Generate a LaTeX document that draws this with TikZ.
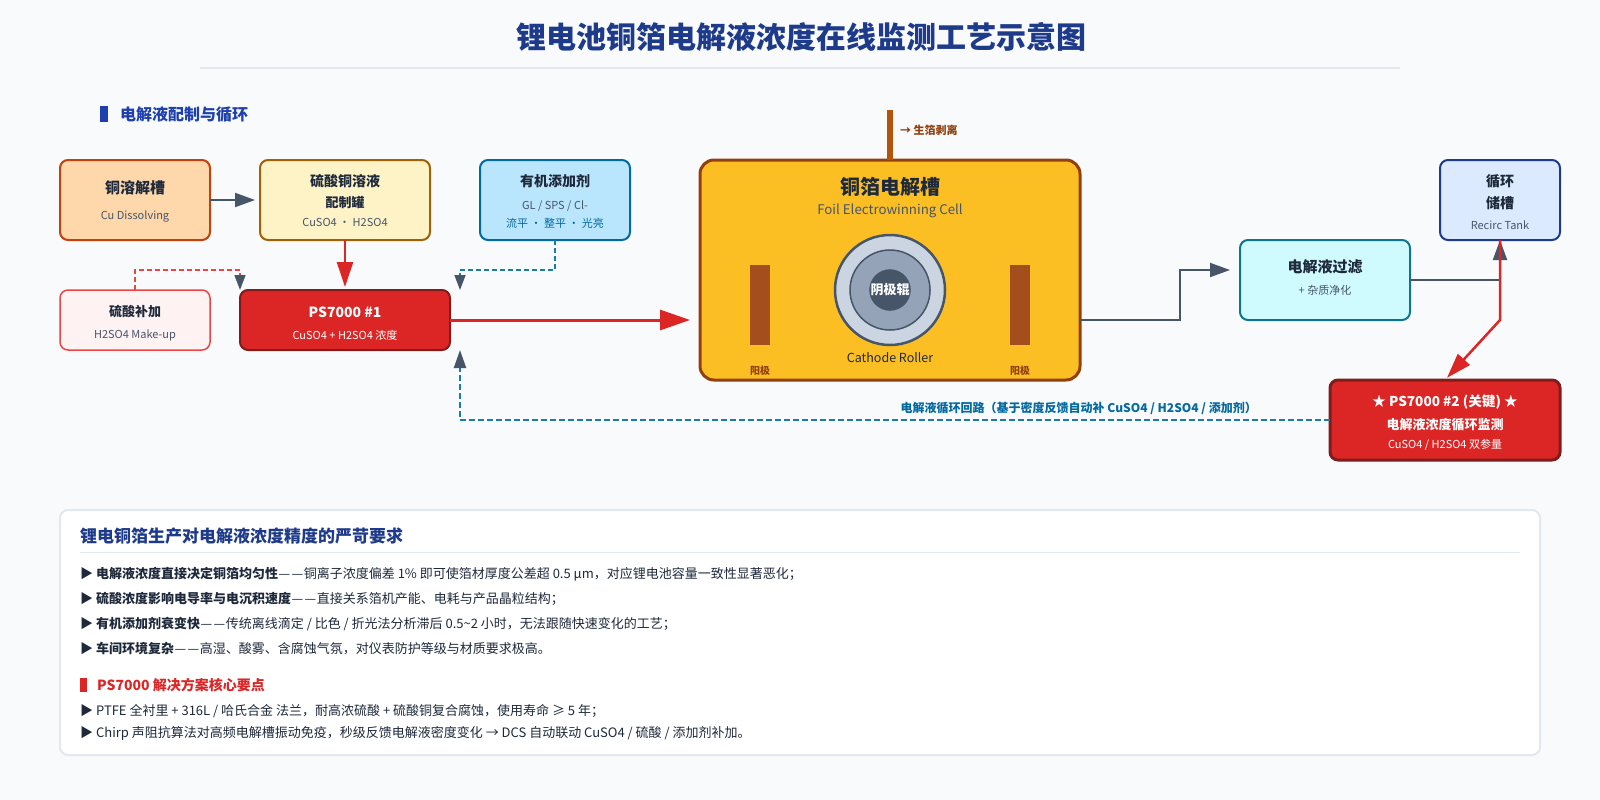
\documentclass[tikz,border=0pt]{standalone}
\usepackage{fontspec}
\usepackage{tikz}
\usetikzlibrary{arrows.meta}
\setmainfont{Noto Sans CJK SC}
\definecolor{pagebg}{HTML}{F8FAFC}
\definecolor{rulegray}{HTML}{E2E8F0}
\definecolor{navy}{HTML}{1E3A8A}
\definecolor{secblue}{HTML}{1E40AF}
\definecolor{ink}{HTML}{1E293B}
\definecolor{slate}{HTML}{475569}
\definecolor{redmain}{HTML}{DC2626}
\definecolor{redlight}{HTML}{EF4444}
\definecolor{reddark}{HTML}{7F1D1D}
\definecolor{sky}{HTML}{0369A1}
\definecolor{dashsky}{HTML}{1A7BAD}
\definecolor{brown}{HTML}{92400E}
\definecolor{anodec}{HTML}{A34E1C}
\definecolor{pipec}{HTML}{B45309}
\definecolor{cufill}{HTML}{FED7AA}
\definecolor{culine}{HTML}{C2410C}
\definecolor{mixfill}{HTML}{FEF3C7}
\definecolor{mixline}{HTML}{A16207}
\definecolor{orgfill}{HTML}{BAE6FD}
\definecolor{acidfill}{HTML}{FEF2F2}
\definecolor{cellfill}{HTML}{FBBF24}
\definecolor{filtfill}{HTML}{CFFAFE}
\definecolor{filtline}{HTML}{0E7490}
\definecolor{tankfill}{HTML}{DBEAFE}
\definecolor{rollout}{HTML}{CBD5E1}
\definecolor{rollmid}{HTML}{94A3B8}
\newcommand{\hd}[2][14]{{\fontsize{#1}{#1}\selectfont\bfseries\color{ink}#2}}
\newcommand{\sm}[2][slate]{{\fontsize{11}{11}\selectfont\color{#1}#2}}
\newcommand{\wh}[2][13]{{\fontsize{#1}{#1}\selectfont\bfseries\color{white}#2}}
\newcommand{\ws}[1]{{\fontsize{11}{11}\selectfont\color{white}#1}}
\newcommand{\dd}{\kern.5pt—\kern1.5pt—\kern.5pt}
\newcommand{\pad}[1]{\rule{0pt}{#1pt}}
\begin{document}
\begin{tikzpicture}[x=1pt,y=-1pt,
  unit/.style={draw,line width=2pt,rounded corners=8pt,inner sep=0pt,outer sep=0pt,
    align=center,minimum width=150pt,minimum height=80pt},
  gap/.style={font=\fontsize{11}{#1}\selectfont},
  flow/.style={draw=slate,line width=2pt,-{Triangle[length=20pt,width=14pt]}},
  hotflow/.style={draw=redmain,line width=2.5pt,-{Triangle[length=25pt,width=16pt]}},
  dose/.style={line width=1.5pt,dash pattern=on 5pt off 3pt,
    -{Triangle[length=15pt,width=11pt,fill=slate,color=slate]}},
  line/.style={anchor=west,font=\fontsize{13}{15}\selectfont,text=ink,inner sep=0pt},
  roll/.style={circle,draw=slate,inner sep=0pt,outer sep=0pt}]
\fill[pagebg] (0,0) rectangle (1600,800);

% title
\node[font=\fontsize{30}{34}\selectfont\bfseries,text=navy] (title) at (801,37) {锂电池铜箔电解液浓度在线监测工艺示意图};
\draw[rulegray,line width=2pt] (200,68) -- (1400,68);
\fill[secblue] (100,106) rectangle (108,122);
\node[anchor=west,inner sep=0pt,font=\fontsize{16}{18}\selectfont\bfseries,text=secblue] (sec) at (120,115) {电解液配制与循环};

% feed side
\node[unit,gap=26,draw=culine,fill=cufill] (cu) at (135,200) {\pad{15}\hd[15]{铜溶解槽}\\\sm{Cu Dissolving}};
\node[unit,gap=21,minimum width=170pt,draw=mixline,fill=mixfill] (mix) at (345,200) {\pad{14}\hd[14]{硫酸铜溶液}\\\hd[13]{配制罐}\\[-2pt]\sm{CuSO4 · H2SO4}};
\node[unit,gap=23,draw=sky,fill=orgfill] (org) at (555,200) {\pad{14}\hd{有机添加剂}\\\sm{GL / SPS / Cl-}\\[-5pt]\sm[sky]{流平 · 整平 · 光亮}};
\node[unit,gap=22,minimum height=60pt,draw=redlight,line width=1.5pt,fill=acidfill] (acid) at (135,320) {\pad{18.5}\hd[13]{硫酸补加}\\\sm{H2SO4 Make-up}};
\node[unit,gap=22,minimum width=210pt,minimum height=60pt,draw=reddark,fill=redmain] (ps1) at (345,320) {\pad{17}\wh[14]{PS7000 \#1}\\\ws{CuSO4 + H2SO4 浓度}};

% cell
\node[unit,minimum width=380pt,minimum height=220pt,rounded corners=14pt,line width=3pt,draw=brown,fill=cellfill] (cell) at (890,270) {};
\fill[pipec] (887,110) rectangle (893,160);
\node[anchor=west,inner sep=0pt,font=\fontsize{11}{13}\selectfont\bfseries,text=brown] (strip) at (900,130) {→ 生箔剥离};
\node[font=\fontsize{20}{22}\selectfont\bfseries,text=ink] (celltxt) at (890,187) {铜箔电解槽};
\node[font=\fontsize{13.3}{15}\selectfont,text=slate] (cellsub) at (890,211) {Foil Electrowinning Cell};
\node[roll,line width=2.5pt,fill=rollout,minimum size=110pt] (r1) at (890,290) {};
\node[roll,line width=1.5pt,fill=rollmid,minimum size=80pt] (r2) at (890,290) {};
\node[roll,fill=slate,minimum size=40pt,font=\fontsize{13}{15}\selectfont\bfseries,text=white] (r3) at (890,290) {阴极辊};
\node[font=\fontsize{12.5}{14}\selectfont,text=ink] (rtxt) at (890,358) {Cathode Roller};
\fill[anodec] (750,265) rectangle (770,345);
\fill[anodec] (1010,265) rectangle (1030,345);
\node[font=\fontsize{10}{12}\selectfont\bfseries,text=brown] (a1) at (760,371) {阳极};
\node[font=\fontsize{10}{12}\selectfont\bfseries,text=brown] (a2) at (1020,371) {阳极};

% return side
\node[unit,gap=22,minimum width=170pt,draw=filtline,fill=filtfill] (filt) at (1325,280) {\hd[15]{电解液过滤}\\\sm{+ 杂质净化}\rule[-6.5pt]{0pt}{6.5pt}};
\node[unit,gap=22,minimum width=120pt,draw=navy,fill=tankfill] (tank) at (1500,200) {\pad{16}\hd{循环}\\\hd{储槽}\\[-1pt]\sm{Recirc Tank}};
\node[unit,gap=23,minimum width=230pt,line width=3pt,draw=reddark,fill=redmain] (ps2) at (1445,420) {\pad{16}\wh[13.6]{★ PS7000 \#2 (关键) ★}\\\wh[13]{电解液浓度循环监测}\\[-4pt]\ws{CuSO4 / H2SO4 双参量}};

\coordinate (mid) at (1500,320);
\coordinate (acidup) at (135,270);
\coordinate (orgdn) at (555,270);
\coordinate (ps1l) at (240,290);
\coordinate (ps1r) at (460,290);
\coordinate (ps1b) at (460,350);

% connectors
\draw[flow,shorten >=5pt] (cu.east) -- (mix.west);
\draw[hotflow,shorten >=3pt] (mix.south) -- (ps1.north);
\draw[hotflow,line width=3pt,-{Triangle[length=30pt,width=20pt]},shorten >=10pt] (ps1.east) -- (cell.west |- ps1.east);
\draw[dose,draw=redlight] (acid.north -| acidup) -- (acidup) -- (acidup -| ps1l) -- (ps1l);
\draw[dose,draw=dashsky] (org.south) -- (orgdn) -- (orgdn -| ps1r) -- (ps1r);
\draw[flow,shorten >=10pt] (cell.east |- mid) -- (1180,320) -- (1180,270) -- (filt.west |- 0,270);
\draw[flow] (filt.east) -- (tank.south |- filt.east) -- (tank.south);
\draw[redmain,line width=2.5pt,-{Triangle[length=25pt,width=16pt]},shorten >=3pt] (tank.south) -- (mid) -- (ps2.north);
\draw[dose,draw=dashsky,line width=2pt,dash pattern=on 6pt off 3pt,-{Triangle[length=18pt,width=12pt,fill=slate,color=slate]}] (ps2.west) -- (ps2.west -| ps1b) -- (ps1b);
\node[anchor=east,inner sep=0pt,font=\fontsize{12}{14}\selectfont\bfseries,text=sky] (loop) at (1257,408) {电解液循环回路（基于密度反馈自动补 CuSO4 / H2SO4 / 添加剂）};

% requirements panel
\node[draw=rulegray,fill=white,line width=2pt,rounded corners=8pt,minimum width=1480pt,minimum height=245pt,inner sep=0pt] (panel) at (800,632.5) {};
\node[anchor=west,inner sep=0pt,font=\fontsize{17}{19}\selectfont\bfseries,text=navy] (req) at (80,536) {锂电铜箔生产对电解液浓度精度的严苛要求};
\draw[rulegray,line width=1pt] (80,552) -- (1520,552);
\node[line] (l1) at (80,574) {▶ \textbf{电解液浓度直接决定铜箔均匀性}\dd 铜离子浓度偏差 1\% 即可使箔材厚度公差超 0.5 μm，对应锂电池容量一致性显著恶化；};
\node[line] (l2) at (80,599) {▶ \textbf{硫酸浓度影响电导率与电沉积速度}\dd 直接关系箔机产能、电耗与产品晶粒结构；};
\node[line] (l3) at (80,624) {▶ \textbf{有机添加剂衰变快}\dd 传统离线滴定 / 比色 / 折光法分析滞后 0.5\string~2 小时，无法跟随快速变化的工艺；};
\node[line] (l4) at (80,649) {▶ \textbf{车间环境复杂}\dd 高湿、酸雾、含腐蚀气氛，对仪表防护等级与材质要求极高。};
\fill[redmain] (80,678) rectangle (87,692);
\node[anchor=west,inner sep=0pt,font=\fontsize{14}{16}\selectfont\bfseries,text=redmain] (sol) at (97,685) {PS7000 解决方案核心要点};
\node[line] (l5) at (80,711) {▶ PTFE 全衬里 + 316L / 哈氏合金 法兰，耐高浓硫酸 + 硫酸铜复合腐蚀，使用寿命 ≥ 5 年；};
\node[line] (l6) at (80,733) {▶ Chirp 声阻抗算法对高频电解槽振动免疫，秒级反馈电解液密度变化 → DCS 自动联动 CuSO4 / 硫酸 / 添加剂补加。};
\end{tikzpicture}
\end{document}
